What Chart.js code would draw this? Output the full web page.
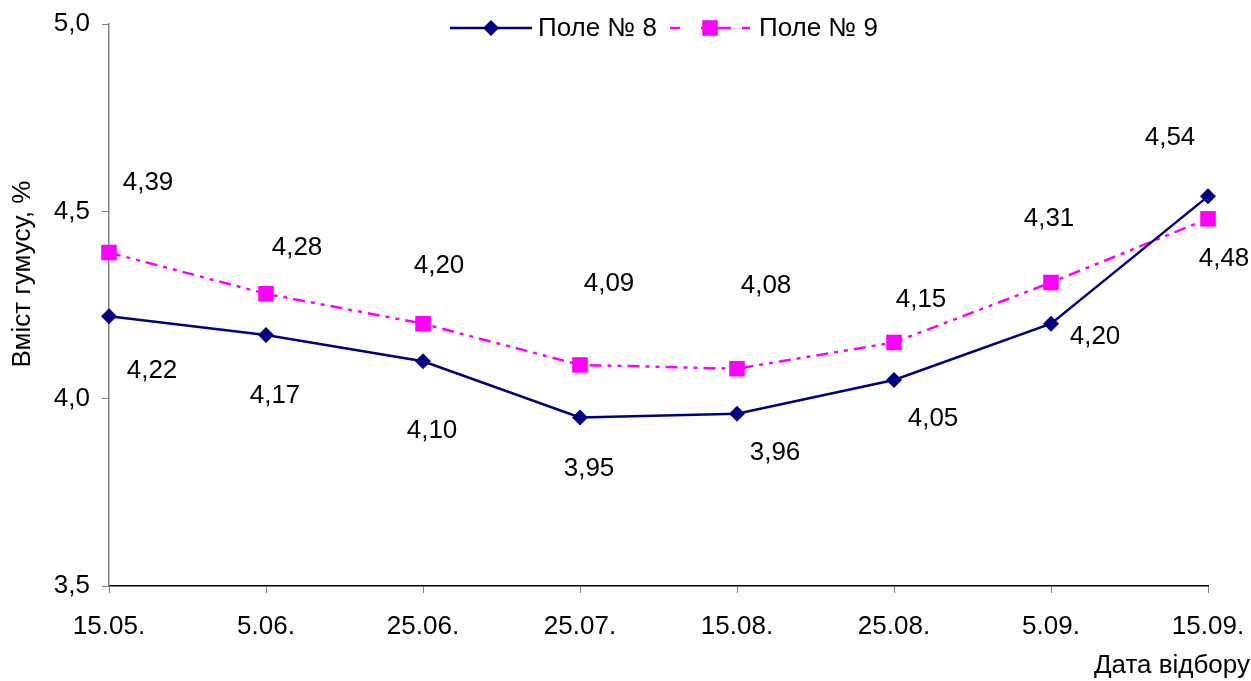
<!DOCTYPE html>
<html>
<head>
<meta charset="utf-8">
<script src="https://cdn.jsdelivr.net/npm/chart.js@4/dist/chart.umd.min.js"></script>
<style>
  html, body { margin: 0; padding: 0; background: #fff; }
  #wrap { width: 1251px; height: 681px; position: relative; }
</style>
</head>
<body>
<div id="wrap"><canvas id="c" width="1251" height="681"></canvas></div>
<script>
// Sampling dates and humus content for two fields
const dates = ['15.05.', '5.06.', '25.06.', '25.07.', '15.08.', '25.08.', '5.09.', '15.09.'];
const field8 = [4.22, 4.17, 4.10, 3.95, 3.96, 4.05, 4.20, 4.54];
const field9 = [4.39, 4.28, 4.20, 4.09, 4.08, 4.15, 4.31, 4.48];
const seriesNames = ['Поле № 8', 'Поле № 9'];
const yTicks = [3.5, 4.0, 4.5, 5.0];
const yTitle = 'Вміст гумусу, %';
const xTitle = 'Дата відбору';

// Label placement relative to each point (pixels)
const labelShift8 = [[43, 55], [9, 61], [9, 70], [9, 51], [38, 39], [39, 39], [44, 13], [-38, -59]];
const labelShift9 = [[39, -70], [31, -46], [16, -58], [29, -81], [29, -83], [27, -43], [-2, -64], [16, 40]];

const FONT = 'Liberation Sans, Arial, sans-serif';
const FS = 26;
const fmt = v => v.toFixed(2).replace('.', ',');

const decor = {
  id: 'decor',
  afterDatasetsDraw(chart) {
    const ctx = chart.ctx;
    const xs = chart.scales.x, ys = chart.scales.y;
    ctx.save();
    ctx.font = FS + 'px ' + FONT;
    ctx.fillStyle = '#000';
    ctx.textAlign = 'center';
    ctx.textBaseline = 'middle';
    const shifts = [labelShift8, labelShift9];
    chart.data.datasets.forEach((ds, di) => {
      ds.data.forEach((v, i) => {
        const px = xs.getPixelForValue(i);
        const py = ys.getPixelForValue(v);
        ctx.fillText(fmt(v), px + shifts[di][i][0], py + shifts[di][i][1]);
      });
    });
    // axis titles
    ctx.textAlign = 'right';
    ctx.fillText(xTitle, 1250, 666);
    ctx.save();
    ctx.translate(23, 274);
    ctx.rotate(-Math.PI / 2);
    ctx.textAlign = 'center';
    ctx.fillText(yTitle, 0, 0);
    ctx.restore();

    // legend: line sample with marker, then the series name
    const items = [
      { x0: 450, x1: 532, tx: 538 },
      { x0: 670, x1: 750, tx: 759 }
    ];
    const ly = 28;
    chart.data.datasets.forEach((ds, di) => {
      const it = items[di];
      const cx = (it.x0 + it.x1) / 2;
      ctx.save();
      ctx.strokeStyle = ds.borderColor;
      ctx.lineWidth = ds.borderWidth;
      ctx.setLineDash(di === 1 ? [10, 21, 30, 11, 17] : []);
      ctx.beginPath();
      ctx.moveTo(it.x0, ly);
      ctx.lineTo(it.x1, ly);
      ctx.stroke();
      ctx.fillStyle = ds.pointBackgroundColor;
      ctx.beginPath();
      const r = ds.pointRadius;
      if (ds.pointStyle === 'rectRot') {
        ctx.moveTo(cx, ly - r); ctx.lineTo(cx + r, ly); ctx.lineTo(cx, ly + r); ctx.lineTo(cx - r, ly);
      } else {
        const s = r * Math.SQRT1_2;
        ctx.rect(cx - s, ly - s, 2 * s, 2 * s);
      }
      ctx.closePath();
      ctx.fill();
      ctx.restore();
      ctx.fillStyle = '#000';
      ctx.textAlign = 'left';
      ctx.fillText(ds.label, it.tx, ly + 1);
    });
    ctx.restore();
  }
};

new Chart(document.getElementById('c'), {
  type: 'line',
  data: {
    labels: dates,
    datasets: [
      {
        label: seriesNames[0],
        data: field8,
        borderColor: '#000080',
        backgroundColor: '#000080',
        borderWidth: 2.5,
        pointStyle: 'rectRot',
        pointRadius: 8,
        pointBackgroundColor: '#000080',
        pointBorderColor: '#000080',
        pointBorderWidth: 0,
        tension: 0
      },
      {
        label: seriesNames[1],
        data: field9,
        borderColor: '#FF00FF',
        backgroundColor: '#FF00FF',
        borderWidth: 2.5,
        borderDash: [12, 6, 4, 6, 4, 6],
        pointStyle: 'rect',
        pointRadius: 11,
        pointBackgroundColor: '#FF00FF',
        pointBorderColor: '#FF00FF',
        pointBorderWidth: 0,
        tension: 0
      }
    ]
  },
  options: {
    responsive: false,
    animation: false,
    events: [],
    layout: { padding: { left: 0, right: 43, top: 24, bottom: 0 } },
    plugins: { legend: { display: false }, tooltip: { enabled: false } },
    scales: {
      x: {
        type: 'category',
        offset: false,
        grid: { display: true, drawOnChartArea: false, drawTicks: true, tickLength: 7, color: '#808080' },
        border: { display: true, color: '#000', width: 1.5 },
        ticks: { color: '#000', font: { family: FONT, size: FS }, padding: 18, maxRotation: 0, autoSkip: false },
        afterFit(s) { s.height = 95; s.paddingLeft = 0; s.paddingRight = 0; }
      },
      y: {
        min: 3.5,
        max: 5.0,
        afterBuildTicks(s) { s.ticks = yTicks.map(v => ({ value: v })); },
        grid: { display: true, drawOnChartArea: false, drawTicks: true, tickLength: 7, color: '#808080' },
        border: { display: true, color: '#808080', width: 1.5 },
        ticks: {
          color: '#000', font: { family: FONT, size: FS }, padding: 12,
          callback: v => v.toFixed(1).replace('.', ',')
        },
        afterFit(s) { s.width = 109; s.paddingTop = 0; s.paddingBottom = 0; }
      }
    }
  },
  plugins: [decor]
});
</script>
</body>
</html>
